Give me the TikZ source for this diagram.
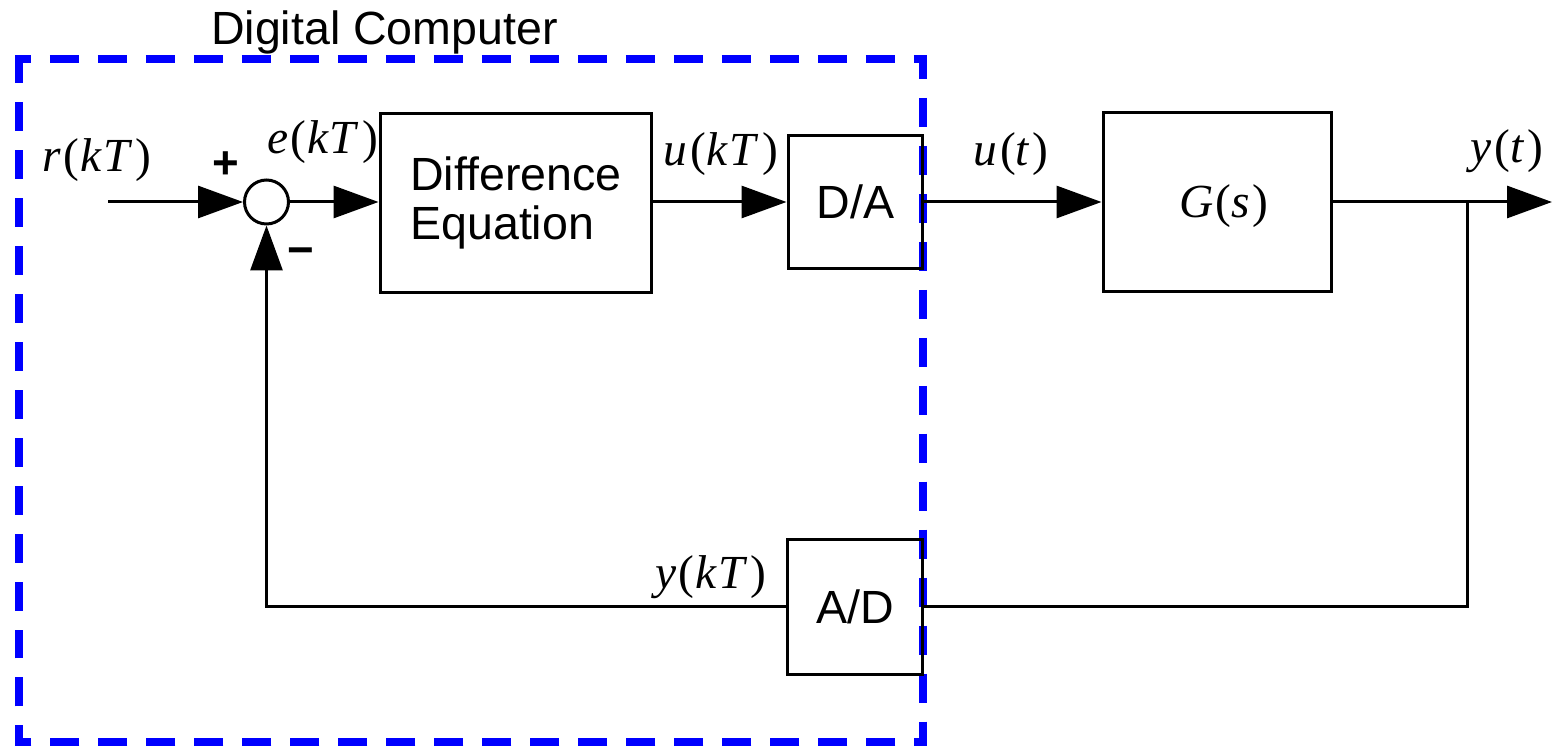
\documentclass[tikz,border=0pt]{standalone}
\usepackage{fontspec}
\setmainfont{Liberation Sans}
\newfontfamily\serif{Liberation Serif}
\usetikzlibrary{arrows.meta}
\newcommand{\I}[1]{\textit{#1}}
\begin{document}
\begin{tikzpicture}[x=0.02cm,y=-0.02cm,
  conn/.style={line width=0.06cm},
  arr/.style={conn, -{Triangle[length=0.9cm,width=0.64cm]}},
  box/.style={draw, line width=0.06cm, inner sep=0, font=\fontsize{26.5}{27.8}\selectfont},
  lab/.style={inner sep=0, font=\serif\fontsize{27}{30}\selectfont},
  sign/.style={inner sep=0, font=\bfseries\fontsize{26}{30}\selectfont},
  dc/.style={draw=blue, line width=0.16cm, dash pattern=on 0.58cm off 0.38cm}]
\useasboundingbox (0,0) rectangle (1553,746);
% digital computer boundary
\draw[dc] (19,76) -- (19,59) -- (923,59) -- (923,742) -- (19,742) -- cycle;
\node[anchor=base, inner sep=0, font=\fontsize{26.5}{30}\selectfont] (dct) at (384.5,45) {Digital Computer};
% blocks
\node[draw, circle, line width=0.06cm, minimum size=0.88cm, inner sep=0] (sum) at (266.5,202) {};
\node[box, minimum width=5.44cm, minimum height=3.6cm, align=left] (de) at (516,203) {Difference\\Equation};
\node[box, minimum width=2.7cm, minimum height=2.66cm] (da) at (855.5,202) {D/A};
\node[box, minimum width=4.58cm, minimum height=3.6cm] (gs) at (1217.5,202) {};
\node[lab] (gst) at (1224,206) {\I{G}\kern1pt(\I{s}\kern1.5pt)};
\node[box, minimum width=2.72cm, minimum height=2.7cm] (ad) at (855,607) {A/D};
% coordinates
\coordinate (in) at (108,202);
\coordinate (br) at (1467,202);
\coordinate (out) at (1552,202);
% connectors
\draw[arr] (in) -- (sum);
\draw[arr] (sum) -- (de.west |- sum);
\draw[arr] (de.east |- da) -- (da);
\draw[arr] (da) -- (gs);
\draw[arr] (gs) -- (out);
\draw[conn] (br) -- (br |- ad) -- (ad);
\draw[arr] (ad) -| (sum);
% labels
\node[lab] (lr) at (97,160) {\I{r}\kern1.5pt(\kern0.5pt\I{k}\kern0.5pt\I{T}\kern2pt)};
\node[lab] (le) at (323,142) {\I{e}\kern1pt(\kern0.5pt\I{k}\kern0.5pt\I{T}\kern2pt)};
\node[lab] (lu) at (721,154) {\I{u}\kern1.5pt(\kern0.5pt\I{k}\kern0.5pt\I{T}\kern2pt)};
\node[lab] (lut) at (1011,154) {\I{u}\kern1.5pt(\I{t}\kern1.5pt)};
\node[lab] (lyt) at (1507,151) {\I{y}\kern1.5pt(\I{t}\kern1.5pt)};
\node[lab] (ly) at (711,577) {\I{y}\kern1.5pt(\kern0.5pt\I{k}\kern0.5pt\I{T}\kern2pt)};
\node[sign] (plus) at (226,165) {+};
\node[sign] (minus) at (301,257) {−};
\end{tikzpicture}
\end{document}
